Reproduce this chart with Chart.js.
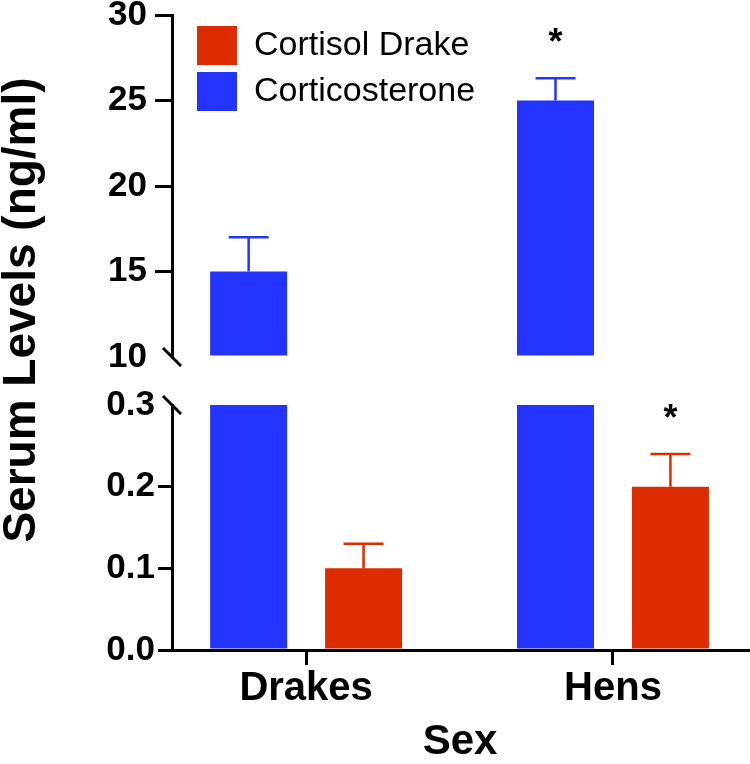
<!DOCTYPE html>
<html>
<head>
<meta charset="utf-8">
<title>Serum Levels</title>
<script src="https://cdn.jsdelivr.net/npm/chart.js@4.4.1/dist/chart.umd.min.js"></script>
<style>
  html, body { margin: 0; padding: 0; background: #fff; }
  canvas { display: block; }
</style>
</head>
<body>
<canvas id="serumChart" width="750" height="764"></canvas>
<script>
// Values
const categories = ['Drakes', 'Hens'];
const corticosterone = [15, 25];
const corticosteroneErr = [2, 1.3];
const corticosteroneSig = [false, true];
const cortisol = [0.1, 0.2];
const cortisolErr = [0.03, 0.04];
const cortisolSig = [false, true];

// Broken y axis: upper segment and lower segment
const upperRange = [10, 30];
const upperStep = 5;
const lowerRange = [0, 0.3];
const lowerStep = 0.1;

const yTitle = 'Serum Levels (ng/ml)';
const xTitle = 'Sex';

const BLUE = '#2434ff';
const RED = '#dc2c00';
const FONT = "'Liberation Sans', Arial, Helvetica, sans-serif";

const toPoints = vals => vals.map((v, i) => ({ x: i + 1, y: v }));
const near = (a, b) => Math.abs(a - b) < 1e-9;

// error bars, significance stars, axis break marks, shared y title
const extras = {
    id: 'extras',
    afterLayout(chart) {
        const lg = chart.legend;
        lg.left = chart.chartArea.left + 18;
        lg.top = chart.chartArea.top + 4;
    },
    afterDatasetsDraw(chart) {
        const ctx = chart.ctx;
        chart.data.datasets.forEach((ds, di) => {
            if (!ds.errors) return;
            const meta = chart.getDatasetMeta(di);
            const scale = chart.scales[ds.yAxisID];
            meta.data.forEach((bar, i) => {
                const yErr = scale.getPixelForValue(ds.data[i].y + ds.errors[i]);
                ctx.save();
                ctx.strokeStyle = ds.backgroundColor;
                ctx.lineWidth = 2.5;
                ctx.beginPath();
                ctx.moveTo(bar.x, bar.y);
                ctx.lineTo(bar.x, yErr);
                ctx.moveTo(bar.x - 20, yErr);
                ctx.lineTo(bar.x + 20, yErr);
                ctx.stroke();
                if (ds.sig[i]) {
                    ctx.fillStyle = '#000';
                    ctx.font = `bold 36px ${FONT}`;
                    ctx.textAlign = 'center';
                    ctx.textBaseline = 'alphabetic';
                    ctx.fillText('*', bar.x, yErr - 24);
                }
                ctx.restore();
            });
        });
    },
    afterDraw(chart) {
        const ctx = chart.ctx;
        const top = chart.scales.yTop;
        const bottom = chart.scales.yBottom;
        const x = chart.chartArea.left;
        ctx.save();
        ctx.strokeStyle = '#000';
        ctx.lineWidth = 3;
        [top.bottom, bottom.top].forEach(y => {
            ctx.beginPath();
            ctx.moveTo(x - 9, y - 9);
            ctx.lineTo(x + 9, y + 9);
            ctx.stroke();
        });
        ctx.translate(22, 310);
        ctx.rotate(-Math.PI / 2);
        ctx.fillStyle = '#000';
        ctx.font = `bold 46px ${FONT}`;
        ctx.textAlign = 'center';
        ctx.textBaseline = 'middle';
        ctx.fillText(yTitle, 0, 0);
        ctx.restore();
    }
};

const axisFit = width => scale => {
    scale.width = width;
    scale.paddingTop = 0;
    scale.paddingBottom = 0;
};

const ctx = document.getElementById('serumChart').getContext('2d');
const serumChart = new Chart(ctx, {
    type: 'bar',
    data: {
        datasets: [{
            label: 'Corticosterone',
            data: toPoints(corticosterone),
            yAxisID: 'yTop',
            stack: 'blue',
            base: upperRange[0],
            backgroundColor: BLUE,
            errors: corticosteroneErr,
            sig: corticosteroneSig
        }, {
            label: 'Corticosterone',
            data: toPoints(corticosterone.map(v => Math.min(v, lowerRange[1]))),
            yAxisID: 'yBottom',
            stack: 'blue',
            backgroundColor: BLUE,
            hideInLegend: true
        }, {
            label: 'Cortisol Drake',
            data: toPoints(cortisol),
            yAxisID: 'yBottom',
            stack: 'red',
            backgroundColor: RED,
            errors: cortisolErr,
            sig: cortisolSig
        }]
    },
    options: {
        responsive: false,
        animation: false,
        borderWidth: 0,
        categoryPercentage: 0.749,
        barPercentage: 0.67,
        layout: { padding: { top: 15, right: 2, left: 0, bottom: 0 } },
        plugins: {
            tooltip: { enabled: false },
            legend: {
                position: 'chartArea',
                align: 'start',
                labels: {
                    boxWidth: 40,
                    boxHeight: 39,
                    padding: 7,
                    color: '#000',
                    font: { family: FONT, size: 34 },
                    filter: (item, data) => !data.datasets[item.datasetIndex].hideInLegend,
                    sort: (a, b) => b.datasetIndex - a.datasetIndex
                }
            }
        },
        scales: {
            x: {
                type: 'linear',
                min: 0.563,
                max: 2.44,
                offset: false,
                afterBuildTicks: scale => { scale.ticks = categories.map((c, i) => ({ value: i + 1 })); },
                afterFit: scale => { scale.height = 114; scale.paddingLeft = 0; scale.paddingRight = 0; },
                ticks: {
                    callback: v => categories[v - 1],
                    color: '#000',
                    padding: 4,
                    maxRotation: 0,
                    autoSkip: false,
                    font: { family: FONT, size: 40, weight: 'bold', lineHeight: 1 }
                },
                grid: { offset: false, drawOnChartArea: false, tickLength: 15, lineWidth: 3, color: '#000' },
                border: { display: true, width: 3, color: '#000' },
                title: {
                    display: true,
                    text: xTitle,
                    color: '#000',
                    padding: { top: 0, bottom: 1 },
                    font: { family: FONT, size: 42, weight: 'bold', lineHeight: 1 }
                }
            },
            // stacked left axes are placed bottom-up in definition order
            yBottom: {
                type: 'linear',
                position: 'left',
                stack: 'serum',
                stackWeight: 245,
                stacked: false,
                min: lowerRange[0],
                max: lowerRange[1],
                afterFit: axisFit(172),
                ticks: {
                    stepSize: lowerStep,
                    callback: v => v.toFixed(1),
                    color: '#000',
                    padding: 3,
                    font: { family: FONT, size: 35, weight: 'bold', lineHeight: 1 }
                },
                grid: {
                    drawOnChartArea: false,
                    tickLength: 14,
                    lineWidth: 3,
                    color: c => (c.tick && near(c.tick.value, lowerRange[1])) ? 'rgba(0,0,0,0)' : '#000'
                },
                border: { display: true, width: 3, color: '#000' }
            },
            yGap: {
                type: 'linear',
                position: 'left',
                stack: 'serum',
                stackWeight: 48,
                display: false
            },
            yTop: {
                type: 'linear',
                position: 'left',
                stack: 'serum',
                stackWeight: 342,
                stacked: false,
                min: upperRange[0],
                max: upperRange[1],
                afterFit: axisFit(172),
                ticks: {
                    stepSize: upperStep,
                    color: '#000',
                    padding: 8,
                    font: { family: FONT, size: 35, weight: 'bold', lineHeight: 1 }
                },
                grid: {
                    drawOnChartArea: false,
                    tickLength: 17,
                    lineWidth: 3,
                    color: c => (c.tick && near(c.tick.value, upperRange[0])) ? 'rgba(0,0,0,0)' : '#000'
                },
                border: { display: true, width: 3, color: '#000' }
            }
        }
    },
    plugins: [extras]
});
</script>
</body>
</html>
